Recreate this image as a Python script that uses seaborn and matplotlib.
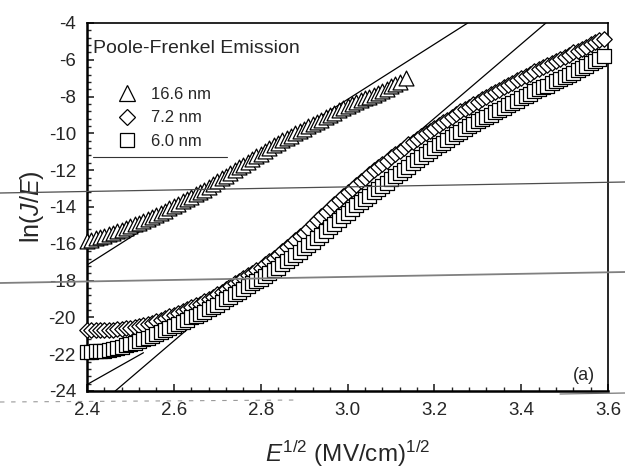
import matplotlib
matplotlib.use("Agg")
import numpy as np
import pandas as pd
import matplotlib.pyplot as plt
import seaborn as sns
from matplotlib.lines import Line2D
from matplotlib.ticker import MultipleLocator, FixedLocator

# ---- data: ln(J/E) versus E^(1/2) for three film thicknesses ----
x_166 = [2.40, 2.41, 2.42, 2.43, 2.44, 2.45, 2.46, 2.47, 2.48, 2.49,
         2.50, 2.51, 2.52, 2.53, 2.54, 2.55, 2.56, 2.57, 2.58, 2.59,
         2.60, 2.61, 2.62, 2.63, 2.64, 2.65, 2.66, 2.67, 2.68, 2.69,
         2.70, 2.71, 2.72, 2.73, 2.74, 2.75, 2.76, 2.77, 2.78, 2.79,
         2.80, 2.81, 2.82, 2.83, 2.84, 2.85, 2.86, 2.87, 2.88, 2.89,
         2.90, 2.91, 2.92, 2.93, 2.94, 2.95, 2.96, 2.97, 2.98, 2.99,
         3.00, 3.01, 3.02, 3.03, 3.04, 3.05, 3.06, 3.07, 3.08, 3.09,
         3.10, 3.11, 3.12, 3.135]
y_166 = [-15.85, -15.78, -15.70, -15.62, -15.55, -15.48, -15.40, -15.32, -15.25, -15.15,
         -15.05, -14.95, -14.85, -14.75, -14.65, -14.55, -14.45, -14.32, -14.20, -14.08,
         -13.95, -13.82, -13.70, -13.58, -13.45, -13.32, -13.20, -13.05, -12.90, -12.75,
         -12.60, -12.45, -12.30, -12.15, -12.00, -11.85, -11.70, -11.55, -11.40, -11.25,
         -11.10, -10.95, -10.80, -10.65, -10.50, -10.38, -10.25, -10.12, -10.00, -9.88,
         -9.75, -9.62, -9.50, -9.38, -9.25, -9.12, -9.00, -8.88, -8.75, -8.62,
         -8.50, -8.40, -8.30, -8.20, -8.10, -8.00, -7.90, -7.80, -7.70, -7.58,
         -7.45, -7.32, -7.20, -7.00]

# the 7.2 nm and 6.0 nm films share the same field points
x_thin = [2.40, 2.41, 2.42, 2.43, 2.44, 2.45, 2.46, 2.47, 2.48, 2.49,
          2.50, 2.51, 2.52, 2.53, 2.54, 2.55, 2.56, 2.57, 2.58, 2.59,
          2.60, 2.61, 2.62, 2.63, 2.64, 2.65, 2.66, 2.67, 2.68, 2.69,
          2.70, 2.71, 2.72, 2.73, 2.74, 2.75, 2.76, 2.77, 2.78, 2.79,
          2.80, 2.81, 2.82, 2.83, 2.84, 2.85, 2.86, 2.87, 2.88, 2.89,
          2.90, 2.91, 2.92, 2.93, 2.94, 2.95, 2.96, 2.97, 2.98, 2.99,
          3.00, 3.01, 3.02, 3.03, 3.04, 3.05, 3.06, 3.07, 3.08, 3.09,
          3.10, 3.11, 3.12, 3.13, 3.14, 3.15, 3.16, 3.17, 3.18, 3.19,
          3.20, 3.21, 3.22, 3.23, 3.24, 3.25, 3.26, 3.27, 3.28, 3.29,
          3.30, 3.31, 3.32, 3.33, 3.34, 3.35, 3.36, 3.37, 3.38, 3.39,
          3.40, 3.41, 3.42, 3.43, 3.44, 3.45, 3.46, 3.47, 3.48, 3.49,
          3.50, 3.51, 3.52, 3.53, 3.54, 3.55, 3.56, 3.57, 3.58, 3.59]
y_72 = [-20.70, -20.70, -20.70, -20.70, -20.70, -20.69, -20.68, -20.65, -20.62, -20.59,
        -20.55, -20.50, -20.45, -20.40, -20.35, -20.28, -20.20, -20.12, -20.05, -19.95,
        -19.85, -19.75, -19.65, -19.55, -19.45, -19.35, -19.25, -19.12, -19.00, -18.88,
        -18.75, -18.60, -18.45, -18.30, -18.15, -18.00, -17.85, -17.72, -17.60, -17.45,
        -17.30, -17.12, -16.95, -16.78, -16.60, -16.40, -16.20, -16.00, -15.80, -15.60,
        -15.40, -15.18, -14.95, -14.72, -14.50, -14.28, -14.05, -13.82, -13.60, -13.40,
        -13.20, -13.00, -12.80, -12.60, -12.40, -12.20, -12.00, -11.82, -11.65, -11.48,
        -11.30, -11.12, -10.95, -10.78, -10.60, -10.45, -10.30, -10.15, -10.00, -9.85,
        -9.70, -9.55, -9.40, -9.25, -9.10, -8.95, -8.80, -8.68, -8.55, -8.42,
        -8.30, -8.15, -8.00, -7.88, -7.75, -7.62, -7.50, -7.38, -7.25, -7.12,
        -7.00, -6.88, -6.75, -6.62, -6.50, -6.40, -6.30, -6.18, -6.05, -5.95,
        -5.85, -5.72, -5.60, -5.50, -5.40, -5.28, -5.15, -5.05, -4.95, -4.85]
y_60 = [-21.90, -21.88, -21.85, -21.82, -21.80, -21.75, -21.70, -21.65, -21.60, -21.52,
        -21.45, -21.38, -21.30, -21.20, -21.10, -21.00, -20.90, -20.80, -20.70, -20.58,
        -20.45, -20.35, -20.25, -20.12, -20.00, -19.90, -19.80, -19.68, -19.55, -19.42,
        -19.30, -19.15, -19.00, -18.88, -18.75, -18.60, -18.45, -18.30, -18.15, -18.02,
        -17.90, -17.75, -17.60, -17.45, -17.30, -17.12, -16.95, -16.78, -16.60, -16.42,
        -16.25, -16.08, -15.90, -15.70, -15.50, -15.30, -15.10, -14.90, -14.70, -14.50,
        -14.30, -14.10, -13.90, -13.72, -13.55, -13.38, -13.20, -13.02, -12.85, -12.68,
        -12.50, -12.32, -12.15, -11.98, -11.80, -11.62, -11.45, -11.28, -11.10, -10.95,
        -10.80, -10.65, -10.50, -10.35, -10.20, -10.05, -9.90, -9.75, -9.60, -9.48,
        -9.35, -9.22, -9.10, -8.98, -8.85, -8.72, -8.60, -8.48, -8.35, -8.22,
        -8.10, -7.98, -7.85, -7.72, -7.60, -7.50, -7.40, -7.28, -7.15, -7.05,
        -6.95, -6.82, -6.70, -6.58, -6.45, -6.32, -6.20, -6.08, -5.95, -5.80]

thickness_labels = ["16.6 nm", "7.2 nm", "6.0 nm"]
series_markers = ["^", "D", "s"]
marker_areas = [115, 62, 88]

# Poole-Frenkel straight-line fits (end points in data units)
fit_166_x = [2.40, 3.277]
fit_166_y = [-17.15, -4.0]
fit_72_x = [2.465, 3.457]
fit_72_y = [-24.0, -4.0]
fit_60_x = [2.40, 2.53]
fit_60_y = [-23.65, -21.92]

x_ticks = [2.4, 2.6, 2.8, 3.0, 3.2, 3.4, 3.6]
x_ticklabels = ["2.4", "2.6", "2.8", "3.0", "3.2", "3.4", "3.6"]
y_ticks = [-24, -22, -20, -18, -16, -14, -12, -10, -8, -6, -4]

frames = [pd.DataFrame({"E_half": x_166, "lnJE": y_166, "film": thickness_labels[0]}),
          pd.DataFrame({"E_half": x_thin, "lnJE": y_72, "film": thickness_labels[1]}),
          pd.DataFrame({"E_half": x_thin, "lnJE": y_60, "film": thickness_labels[2]})]
df = pd.concat(frames, ignore_index=True)

# ---- styling ----
sns.set_style("ticks")
plt.rcParams["font.family"] = ["Liberation Sans", "DejaVu Sans"]
plt.rcParams["mathtext.fontset"] = "custom"
plt.rcParams["mathtext.rm"] = "Liberation Sans"
plt.rcParams["mathtext.it"] = "Liberation Sans:italic"
plt.rcParams["axes.unicode_minus"] = False

fig = plt.figure(figsize=(6.25, 4.72), dpi=100)
ax = fig.add_axes([87 / 625, 1 - 391 / 472, (608 - 87) / 625, (391 - 23) / 472])

# fit lines behind the symbols
for fx, fy in [(fit_166_x, fit_166_y), (fit_72_x, fit_72_y), (fit_60_x, fit_60_y)]:
    sns.lineplot(x=fx, y=fy, ax=ax, color="black", linewidth=0.9, zorder=2,
                 sort=False, estimator=None)

for lab, mk, area in zip(thickness_labels, series_markers, marker_areas):
    sub = df[df["film"] == lab]
    sns.scatterplot(data=sub, x="E_half", y="lnJE", ax=ax, marker=mk, s=area,
                    facecolor="white", edgecolor="black", linewidth=0.9,
                    zorder=3, clip_on=False, legend=False)

ax.set_xlim(2.4, 3.6)
ax.set_ylim(-24, -4)
ax.xaxis.set_major_locator(FixedLocator(x_ticks))
ax.set_xticklabels(x_ticklabels)
ax.yaxis.set_major_locator(FixedLocator(y_ticks))
ax.xaxis.set_minor_locator(MultipleLocator(0.04))
ax.yaxis.set_minor_locator(MultipleLocator(0.4))
ax.tick_params(axis="both", which="major", direction="in", length=5, width=1.2,
               labelsize=13.5, pad=8, top=False, right=False)
ax.tick_params(axis="both", which="minor", direction="in", length=3, width=1.0,
               top=False, right=False)

for side in ["left", "bottom"]:
    ax.spines[side].set_linewidth(1.8)
for side in ["top", "right"]:
    ax.spines[side].set_linewidth(1.2)
for sp in ax.spines.values():
    sp.set_color("black")

ax.set_xlabel(r"$E^{1/2}$ (MV/cm)$^{1/2}$", fontsize=17.5, labelpad=14)
ax.set_ylabel(r"ln($J$/$E$)", fontsize=18, labelpad=2)

ax.text(0.012, 0.918, "Poole-Frenkel Emission", transform=ax.transAxes,
        fontsize=14, ha="left", va="baseline")
ax.text(0.975, 0.03, "(a)", transform=ax.transAxes, fontsize=13,
        ha="right", va="baseline")

handles = [Line2D([], [], ls="", marker="^", ms=11.5, mfc="white", mec="black", mew=0.9),
           Line2D([], [], ls="", marker="D", ms=8.0, mfc="white", mec="black", mew=0.9),
           Line2D([], [], ls="", marker="s", ms=10.0, mfc="white", mec="black", mew=0.9)]
ax.legend(handles, thickness_labels, loc="upper left", bbox_to_anchor=(0.055, 0.826),
          frameon=False, fontsize=12, handlelength=1.4, handletextpad=0.75,
          labelspacing=0.5, borderpad=0, borderaxespad=0)

# faint rules and specks carried on the printed page
def page_line(x0, y0, x1, y1, **kw):
    fig.add_artist(Line2D([x0 / 625, x1 / 625], [1 - y0 / 472, 1 - y1 / 472],
                          transform=fig.transFigure, **kw))

page_line(0, 193, 625, 182, color="0.3", lw=0.9)
page_line(0, 283, 625, 272, color="0.5", lw=1.3)
page_line(93, 157, 227, 157, color="0.2", lw=0.8)
page_line(0, 402, 300, 400, color="0.6", lw=0.8, ls=(0, (4, 6)))
page_line(560, 394, 625, 393, color="0.4", lw=0.8)

fig.savefig("out.png", dpi=100)
